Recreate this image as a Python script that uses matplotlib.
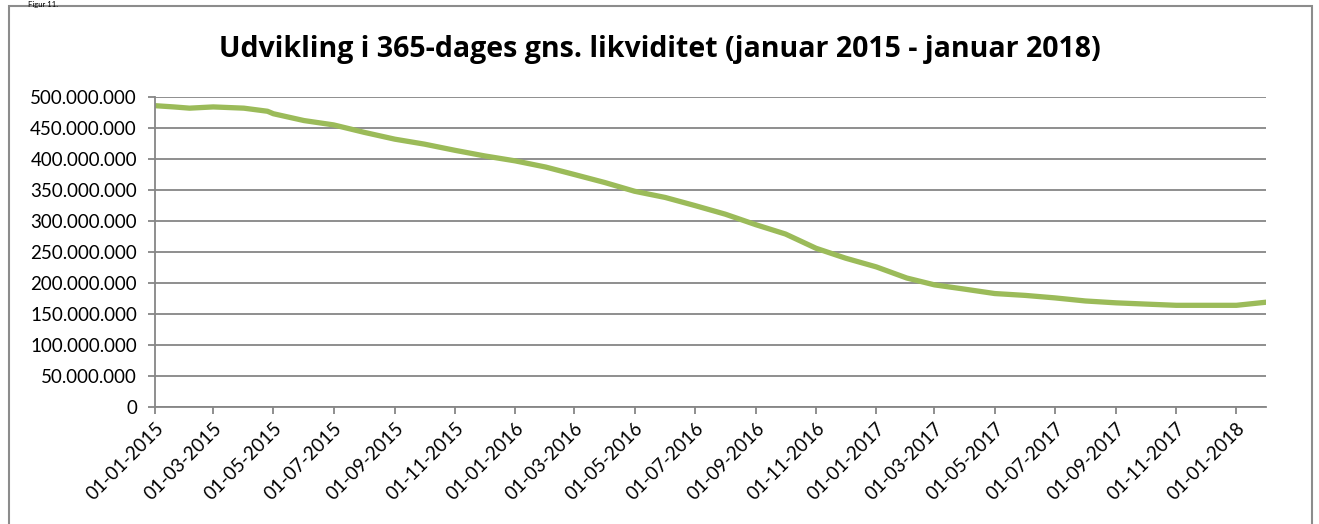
import numpy as np
import pandas as pd
import matplotlib
matplotlib.use("Agg")
import matplotlib.pyplot as plt
import matplotlib.dates as mdates
from matplotlib.ticker import FuncFormatter, MultipleLocator
from matplotlib.patches import Rectangle

# --- data (in millions DKK) ---
dates = ["2015-01-01", "2015-01-20", "2015-02-05", "2015-03-01", "2015-04-01", "2015-04-25",
         "2015-05-01", "2015-06-01", "2015-07-01", "2015-08-01", "2015-09-01", "2015-10-01",
         "2015-11-01", "2015-12-01", "2016-01-01", "2016-02-01", "2016-03-01", "2016-04-01",
         "2016-05-01", "2016-06-01", "2016-07-01", "2016-08-01", "2016-09-01", "2016-10-01",
         "2016-11-01", "2016-12-01", "2017-01-01", "2017-02-01", "2017-03-01", "2017-04-01",
         "2017-05-01", "2017-06-01", "2017-07-01", "2017-08-01", "2017-09-01", "2017-10-01",
         "2017-11-01", "2017-12-01", "2018-01-01", "2018-01-31"]
values_mio = [486, 484, 482, 484, 482, 477,
              473, 462, 455, 443, 432, 424,
              414, 405, 397, 387, 375, 362,
              348, 338, 325, 311, 294, 279,
              256, 240, 226, 208, 197, 190,
              183, 180, 176, 171, 168, 166,
              164, 164, 164, 169]

title = "Udvikling i 365-dages gns. likviditet (januar 2015 - januar 2018)"
caption = "Figur 11."

x = pd.to_datetime(dates)
y = np.array(values_mio) * 1e6

plt.rcParams['font.family'] = ['Lato', 'DejaVu Sans']

W, H = 1319, 524
fig = plt.figure(figsize=(W / 100, H / 100), dpi=100)
ax = fig.add_axes([155 / W, 1 - 407 / H, (1266 - 155) / W, (407 - 97) / H])

# outer chart frame like an Excel chart object
fig.patches.append(Rectangle((9 / W, -0.05), (1312 - 9) / W, 1 - 6 / H + 0.05,
                             transform=fig.transFigure, fill=False,
                             edgecolor="#8c8c8c", linewidth=1.5))
fig.text(28 / W, 1.0 - 0.5 / H, caption, fontsize=5.5, va="top", ha="left")

ax.plot(x, y, color="#9bbb59", linewidth=3.8, solid_capstyle="round")

ax.set_ylim(0, 500e6)
ax.set_xlim(pd.Timestamp("2015-01-01"), pd.Timestamp("2018-01-31"))
ax.yaxis.set_major_locator(MultipleLocator(50e6))
ax.yaxis.set_major_formatter(FuncFormatter(lambda v, p: f"{int(v):,}".replace(",", ".")))
ax.xaxis.set_major_locator(mdates.MonthLocator(bymonth=[1, 3, 5, 7, 9, 11], bymonthday=1))
ax.xaxis.set_major_formatter(mdates.DateFormatter("%d-%m-%Y"))

ax.grid(axis="y", color="#868686", linewidth=1.3)
ax.set_axisbelow(True)
for side in ["top", "right"]:
    ax.spines[side].set_visible(False)
for side in ["left", "bottom"]:
    ax.spines[side].set_color("#868686")
    ax.spines[side].set_linewidth(1.3)
ax.tick_params(axis="both", direction="out", length=5, width=1.3, color="#868686",
               labelsize=13.5, labelcolor="black")
ax.tick_params(axis="y", pad=8)
ax.tick_params(axis="x", pad=4)
plt.setp(ax.get_xticklabels(), rotation=45, ha="right", rotation_mode="anchor")

fig.text(0.5, 1 - 49 / H, title, fontsize=20.5, fontweight="bold", ha="center", va="center",
         family=["Open Sans", "DejaVu Sans"])

plt.savefig("out.png", dpi=100)
